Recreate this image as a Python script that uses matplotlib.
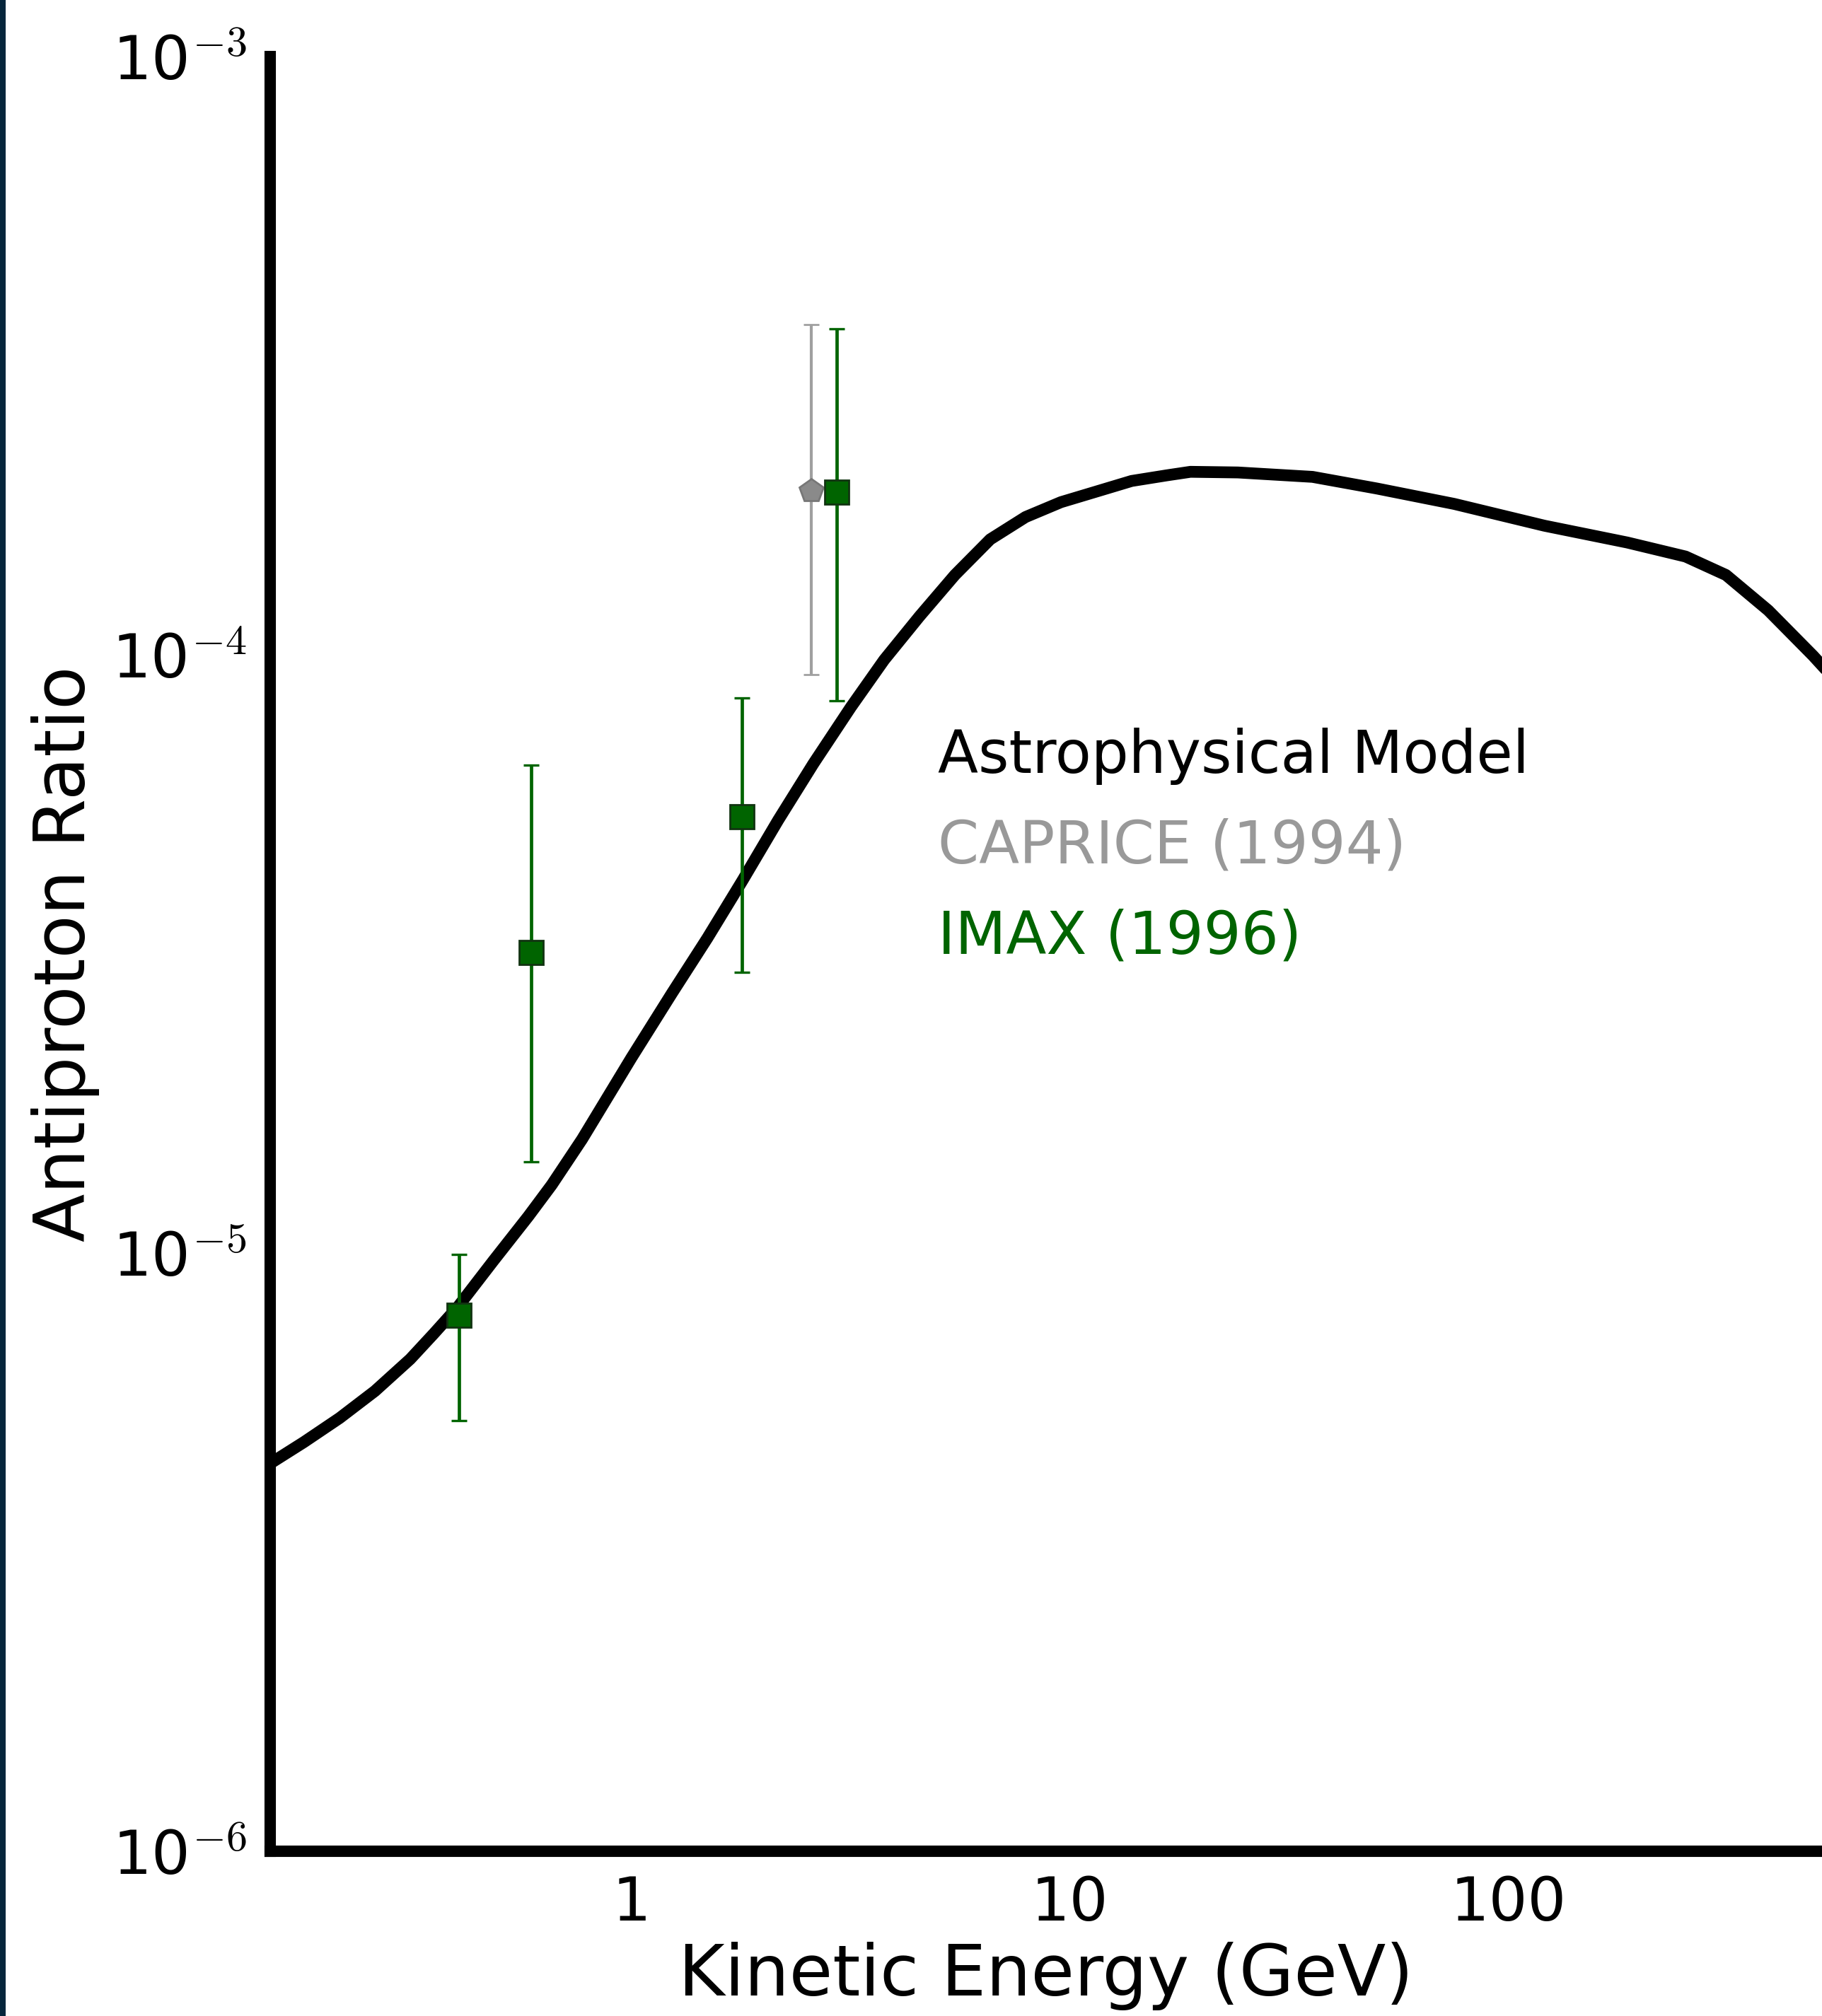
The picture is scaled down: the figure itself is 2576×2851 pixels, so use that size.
import matplotlib
matplotlib.use('Agg')
import matplotlib.pyplot as plt
from matplotlib.patches import Rectangle

plt.rcParams.update({
    'font.family': 'DejaVu Sans',
    'mathtext.fontset': 'cm',
    'axes.linewidth': 5.8,
    'xtick.direction': 'in',
    'ytick.direction': 'in',
    'xtick.labelsize': 31,
    'ytick.labelsize': 31,
    'axes.labelsize': 36,
})

# astrophysical (secondary) antiproton/proton ratio
model_energy = [0.15, 0.179, 0.216, 0.260, 0.313, 0.354, 0.402, 0.484, 0.582, 0.658,
                0.772, 1.0, 1.238, 1.49, 1.794, 2.161, 2.602, 3.168, 3.773, 4.543, 5.47,
                6.585, 7.93, 9.55, 11.5, 13.84, 16.67, 18.85, 24.17, 35.8, 50.2, 75.3,
                121, 187, 254, 314, 392, 496, 520]
model_ratio = [4.45e-6, 4.83e-6, 5.30e-6, 5.88e-6, 6.65e-6, 7.33e-6, 8.13e-6, 9.70e-6,
               1.152e-5, 1.30e-5, 1.55e-5, 2.12e-5, 2.72e-5, 3.36e-5, 4.20e-5, 5.29e-5,
               6.58e-5, 8.18e-5, 9.81e-5, 1.16e-4, 1.36e-4, 1.56e-4, 1.70e-4,
               1.800e-4, 1.875e-4, 1.953e-4, 1.996e-4, 2.023e-4, 2.018e-4, 1.984e-4,
               1.897e-4, 1.788e-4, 1.644e-4, 1.541e-4, 1.460e-4, 1.360e-4, 1.187e-4,
               9.97e-5, 9.60e-5]

caprice_energy = [2.57]
caprice_ratio = [1.88e-4]
caprice_low = [9.27e-5]
caprice_high = [3.57e-4]

imax_energy = [0.404, 0.591, 1.79, 2.94]
imax_ratio = [7.87e-6, 3.18e-5, 5.37e-5, 1.87e-4]
imax_low = [5.25e-6, 1.42e-5, 2.95e-5, 8.39e-5]
imax_high = [9.95e-6, 6.55e-5, 8.47e-5, 3.51e-4]

series_labels = ['Astrophysical Model', 'CAPRICE (1994)', 'IMAX (1996)']
series_colors = ['black', '#999999', '#006400']

x_ticks = [1, 10, 100]
x_tick_labels = ['1', '10', '100']
y_ticks = [1e-6, 1e-5, 1e-4, 1e-3]
y_tick_labels = [r'$\mathregular{10}^{-6}$', r'$\mathregular{10}^{-5}$',
                 r'$\mathregular{10}^{-4}$', r'$\mathregular{10}^{-3}$']


def asym_err(vals, lows, highs):
    return [[v - lo for v, lo in zip(vals, lows)], [hi - v for v, hi in zip(vals, highs)]]


fig = plt.figure(figsize=(12.88, 14.255), dpi=200)
fig.patches.append(Rectangle((0, 0), 0.0031, 1, transform=fig.transFigure,
                             facecolor='#06263c', edgecolor='none'))
ax = fig.add_axes([0.1483, 0.0817, 0.8517, 0.8902])

ax.plot(model_energy, model_ratio, color='black', lw=6, solid_joinstyle='round')
ax.errorbar(caprice_energy, caprice_ratio,
            yerr=asym_err(caprice_ratio, caprice_low, caprice_high),
            fmt='p', color='#8a8a8a', ecolor='#a0a0a0', mec='#777777', ms=12.5,
            elinewidth=1.5, capsize=3.8, capthick=1.0)
ax.errorbar(imax_energy, imax_ratio,
            yerr=asym_err(imax_ratio, imax_low, imax_high),
            fmt='s', color='#006400', ecolor='#006400', mec='#113311', ms=12.5,
            elinewidth=1.7, capsize=3.8, capthick=1.2)

ax.set_xscale('log')
ax.set_yscale('log')
ax.set_xlim(0.15, 520)
ax.set_ylim(1e-6, 1e-3)

ax.set_xticks(x_ticks)
ax.set_xticklabels(x_tick_labels)
ax.set_yticks(y_ticks)
ax.set_yticklabels(y_tick_labels)
ax.minorticks_off()
ax.tick_params(length=3, width=0.6, pad=12)

for side in ['top', 'right']:
    ax.spines[side].set_visible(False)

ax.set_xlabel('Kinetic Energy (GeV)', labelpad=4)
ax.set_ylabel('Antiproton Ratio', labelpad=6)

for i, (label, color) in enumerate(zip(series_labels, series_colors)):
    ax.text(0.4303, 0.6009 - i * 0.0503, label, color=color, fontsize=30,
            transform=ax.transAxes, ha='left', va='baseline')

fig.savefig('out.png', dpi=200)
